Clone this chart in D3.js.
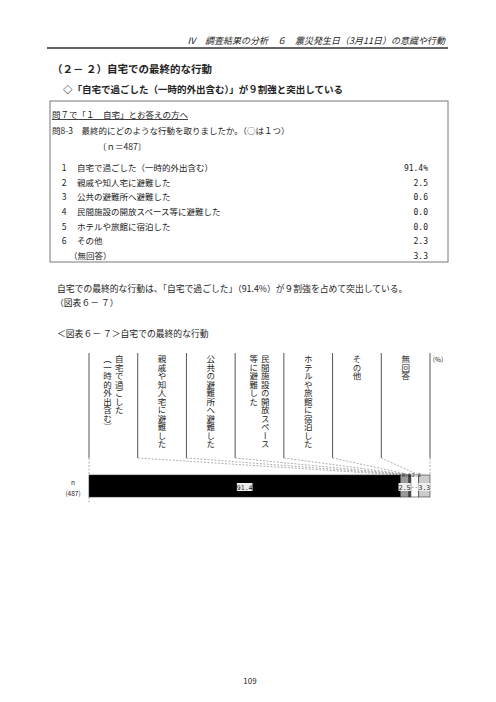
<!DOCTYPE html>
<html>
<head>
<meta charset="utf-8">
<script src="https://cdn.jsdelivr.net/npm/d3@7"></script>
<style>
  body { margin: 0; background: #fff; }
  svg text { font-family: "Noto Sans CJK JP", "Noto Sans", sans-serif; fill: #222; }
  .num { font-family: "DejaVu Sans Mono", monospace; }
</style>
</head>
<body>
<div id="page"></div>
<script>
// ---- data ----
const categories = [
  "自宅で過ごした（一時的外出含む）",
  "親戚や知人宅に避難した",
  "公共の避難所へ避難した",
  "民間施設の開放スペース等に避難した",
  "ホテルや旅館に宿泊した",
  "その他",
  "（無回答）"
];
const itemNumbers = ["1", "2", "3", "4", "5", "6", ""];
const values = [91.4, 2.5, 0.6, 0.0, 0.0, 2.3, 3.3];
const valueTexts = ["91.4%", "2.5", "0.6", "0.0", "0.0", "2.3", "3.3"];
// vertical column headings of the chart (right column first)
const columnLabels = [
  ["自宅で過ごした", "（一時的外出含む）"],
  ["親戚や知人宅に避難した"],
  ["公共の避難所へ避難した"],
  ["民間施設の開放スペース", "等に避難した"],
  ["ホテルや旅館に宿泊した"],
  ["その他"],
  ["無回答"]
];
const barLabels = ["91.4", "2.5", "0.6", "-", "-", "2.3", "3.3"];
const sampleSize = 487;

const W = 496, H = 702;

const svg = d3.select("#page").append("svg")
  .attr("width", W)
  .attr("height", H);

// ---- page header ----
svg.append("text")
  .attr("x", 445).attr("y", 44)
  .attr("text-anchor", "end")
  .attr("font-size", 9)
  .attr("font-style", "italic")
  .text("Ⅳ　調査結果の分析　６　震災発生日（3月11日）の意識や行動");

svg.append("line")
  .attr("x1", 47).attr("x2", 448)
  .attr("y1", 48).attr("y2", 48)
  .attr("stroke", "#333").attr("stroke-width", 1.6);

svg.append("text")
  .attr("x", 52).attr("y", 73)
  .attr("font-size", 10.5).attr("font-weight", "bold")
  .text("（２－ ２）自宅での最終的な行動");

svg.append("text")
  .attr("x", 63).attr("y", 92.5)
  .attr("font-size", 9.5).attr("font-weight", "bold")
  .text("◇「自宅で過ごした（一時的外出含む）」が９割強と突出している");

// ---- question box ----
svg.append("rect")
  .attr("x", 50).attr("y", 101)
  .attr("width", 398).attr("height", 161)
  .attr("fill", "none")
  .attr("stroke", "#777").attr("stroke-width", 1);

svg.append("text")
  .attr("x", 52).attr("y", 118)
  .attr("font-size", 8.5)
  .attr("text-decoration", "underline")
  .text("問７で「１　自宅」とお答えの方へ");

svg.append("text")
  .attr("x", 52).attr("y", 133.5)
  .attr("font-size", 8.5)
  .text("問8-3　最終的にどのような行動を取りましたか。（○は１つ）");

svg.append("text")
  .attr("x", 98).attr("y", 150)
  .attr("font-size", 8.5)
  .text(`〔ｎ＝${sampleSize}〕`);

const rowY = d3.scalePoint()
  .domain(d3.range(categories.length))
  .range([171, 259]);

const rows = svg.append("g").selectAll("g")
  .data(categories)
  .join("g")
  .attr("transform", (d, i) => `translate(0,${rowY(i)})`);

rows.append("text")
  .attr("x", 64).attr("text-anchor", "middle")
  .attr("font-size", 8.5)
  .text((d, i) => itemNumbers[i]);

rows.append("text")
  .attr("x", (d, i) => itemNumbers[i] ? 77 : 69)
  .attr("font-size", 8.5)
  .text(d => d);

rows.append("text")
  .attr("class", "num")
  .attr("x", 428).attr("text-anchor", "end")
  .attr("font-size", 8)
  .text((d, i) => valueTexts[i]);

// ---- paragraph ----
svg.append("text")
  .attr("x", 57).attr("y", 291.5)
  .attr("font-size", 8.8)
  .text("自宅での最終的な行動は、「自宅で過ごした」（91.4%）が９割強を占めて突出している。");

svg.append("text")
  .attr("x", 55).attr("y", 305.5)
  .attr("font-size", 8.8)
  .text("（図表６－ ７）");

svg.append("text")
  .attr("x", 57).attr("y", 337)
  .attr("font-size", 8.8)
  .text("＜図表６－ ７＞自宅での最終的な行動");

// ---- chart ----
const chart = {
  left: 89, right: 430,
  headTop: 353, headBottom: 458,
  barTop: 475, barBottom: 497
};

const xScale = d3.scaleLinear()
  .domain([0, d3.sum(values)])
  .range([chart.left, chart.right]);

const colScale = d3.scaleBand()
  .domain(d3.range(categories.length))
  .range([chart.left, chart.right]);

const cum = [0];
values.forEach((v, i) => cum.push(cum[i] + v));

const g = svg.append("g");

// column separators
g.selectAll("line.sep")
  .data(d3.range(categories.length + 1))
  .join("line")
  .attr("class", "sep")
  .attr("x1", i => chart.left + i * colScale.bandwidth())
  .attr("x2", i => chart.left + i * colScale.bandwidth())
  .attr("y1", chart.headTop)
  .attr("y2", chart.headBottom)
  .attr("stroke", "#555").attr("stroke-width", 1);

// leader lines from headings to bar segments
g.selectAll("line.lead")
  .data(cum)
  .join("line")
  .attr("class", "lead")
  .attr("x1", (d, i) => chart.left + i * colScale.bandwidth())
  .attr("y1", chart.headBottom)
  .attr("x2", d => xScale(d))
  .attr("y2", chart.barTop)
  .attr("stroke", "#999")
  .attr("stroke-width", 0.8)
  .attr("stroke-dasharray", "2,1.5");

// dotted axis continuing below the bar
g.append("line")
  .attr("x1", chart.left).attr("x2", chart.left)
  .attr("y1", chart.barBottom).attr("y2", 503)
  .attr("stroke", "#999").attr("stroke-width", 0.8)
  .attr("stroke-dasharray", "2,1.5");

// vertical headings
const heads = g.selectAll("g.head")
  .data(columnLabels)
  .join("g")
  .attr("class", "head")
  .attr("transform", (d, i) => `translate(${colScale(i) + colScale.bandwidth() / 2},0)`);

heads.selectAll("text")
  .data(d => d.map((t, j) => ({ t, j, n: d.length })))
  .join("text")
  .attr("x", d => (d.n - 1) * 5.8 - d.j * 11.6)
  .attr("y", 355)
  .attr("font-size", 8.5)
  .style("writing-mode", "vertical-rl")
  .text(d => d.t);

svg.append("text")
  .attr("x", 438).attr("y", 362)
  .attr("text-anchor", "middle")
  .attr("font-size", 6.5)
  .text("(%)");

// stacked bar
const segColors = ["#000", "#999", "#444", "#fff", "#fff", "#fff", "#ccc"];

g.selectAll("rect.seg")
  .data(values)
  .join("rect")
  .attr("class", "seg")
  .attr("x", (d, i) => xScale(cum[i]))
  .attr("y", chart.barTop)
  .attr("width", d => xScale(d) - xScale(0))
  .attr("height", chart.barBottom - chart.barTop)
  .attr("fill", (d, i) => segColors[i])
  .attr("stroke", "#333")
  .attr("stroke-width", d => d > 0 ? 0.6 : 0);

// value labels
const labelInside = [true, true, false, null, null, false, true];
const labels = g.selectAll("g.lab")
  .data(values)
  .join("g")
  .attr("class", "lab");

labels.each(function (d, i) {
  const sel = d3.select(this);
  const mid = xScale(cum[i] + d / 2);
  if (labelInside[i] === true) {
    const w = barLabels[i].length * 3.4 + 2;
    sel.append("rect")
      .attr("x", mid - w / 2).attr("y", 483)
      .attr("width", w).attr("height", 8)
      .attr("fill", "#eee");
    sel.append("text")
      .attr("x", mid).attr("y", 489.5)
      .attr("text-anchor", "middle")
      .attr("font-size", 6.5)
      .attr("class", "num")
      .text(barLabels[i]);
  } else if (labelInside[i] === false) {
    sel.append("text")
      .attr("x", i === 2 ? mid - 3.5 : mid + 1.5).attr("y", 477)
      .attr("text-anchor", "middle")
      .attr("font-size", 5)
      .attr("class", "num")
      .text(barLabels[i]);
  } else {
    sel.append("text")
      .attr("x", xScale(cum[i]) + (i === 3 ? 1.5 : 5.5)).attr("y", 489)
      .attr("text-anchor", "middle")
      .attr("font-size", 6)
      .attr("fill", "#666")
      .text(barLabels[i]);
  }
});

// sample size
svg.append("text")
  .attr("x", 73).attr("y", 485)
  .attr("text-anchor", "middle")
  .attr("font-size", 6.5)
  .text("n");
svg.append("text")
  .attr("x", 73).attr("y", 496)
  .attr("text-anchor", "middle")
  .attr("font-size", 6.5)
  .text(`(${sampleSize})`);

// page number
svg.append("text")
  .attr("x", 250).attr("y", 684)
  .attr("text-anchor", "middle")
  .attr("font-size", 8)
  .text("109");
</script>
</body>
</html>
